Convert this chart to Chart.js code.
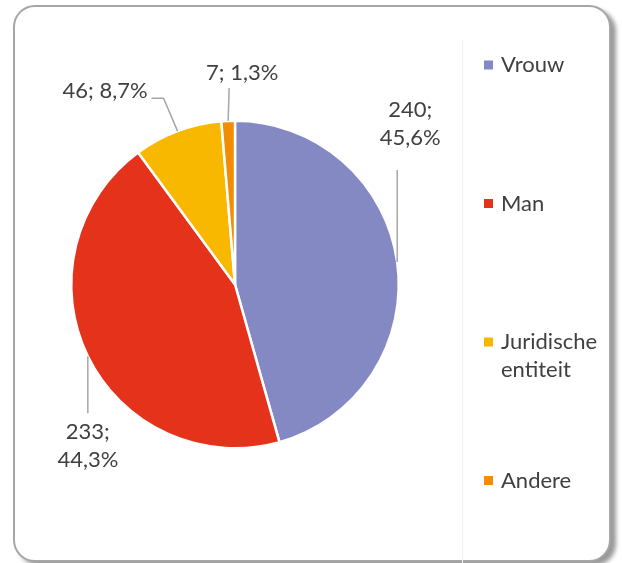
<!DOCTYPE html>
<html>
<head>
<meta charset="utf-8">
<script src="https://cdn.jsdelivr.net/npm/chart.js@4"></script>
<style>
  html, body { margin: 0; padding: 0; background: #fff; }
  #wrap { position: relative; width: 622px; height: 563px; overflow: hidden; }
  #frame {
    position: absolute; left: 13px; top: 5px; width: 594px; height: 553px;
    border: 2px solid #a6a6a6; border-radius: 22px; background: #fff;
    box-shadow: 5px 4px 4px rgba(0, 0, 0, 0.4);
  }
  #sep { position: absolute; left: 462px; top: 40px; width: 1px; height: 523px; background: #f3f3f3; }
  #box { position: absolute; left: 0; top: 0; width: 622px; height: 563px; }
</style>
</head>
<body>
<div id="wrap">
  <div id="frame"></div>
  <div id="sep"></div>
  <div id="box"><canvas id="pieChart"></canvas></div>
</div>
<script>
// Données du graphique
const categories = ['Vrouw', 'Man', 'Juridische entiteit', 'Andere'];
const legendLines = [['Vrouw'], ['Man'], ['Juridische', 'entiteit'], ['Andere']];
const values = [240, 233, 46, 7];
const percentLabels = ['45,6%', '44,3%', '8,7%', '1,3%'];
const colors = ['#8489c4', '#e5321a', '#f9b800', '#f28c00'];

const FONT = '22px Lato, "Open Sans", sans-serif';
const TEXT_COLOR = '#404040';
const LINE_COLOR = '#a6a6a6';

// Disposition des étiquettes (décalages par rapport au point d'ancrage sur l'arc)
const labelLayout = [
    { path: [[0, -92]], lines: 2, tx: 13, ty: -152, align: 'center' },
    { path: [[0, 57]], lines: 2, tx: 0, ty: 76, align: 'center' },
    { path: [[-14, -33], [-26, -33]], lines: 1, tx: -30, ty: -40, align: 'right' },
    { path: [[1, -33]], lines: 1, tx: 14, ty: -48, align: 'center' }
];

// Plugin pour les étiquettes de données avec lignes de repère
const dataLabelPlugin = {
    id: 'dataLabels',
    afterDatasetsDraw(chart) {
        const ctx = chart.ctx;
        const arcs = chart.getDatasetMeta(0).data;
        ctx.save();
        arcs.forEach((arc, i) => {
            const mid = (arc.startAngle + arc.endAngle) / 2;
            const px = arc.x + Math.cos(mid) * arc.outerRadius;
            const py = arc.y + Math.sin(mid) * arc.outerRadius;
            const lay = labelLayout[i];

            ctx.strokeStyle = LINE_COLOR;
            ctx.lineWidth = 1.5;
            ctx.beginPath();
            ctx.moveTo(px, py);
            lay.path.forEach(p => ctx.lineTo(px + p[0], py + p[1]));
            ctx.stroke();

            ctx.fillStyle = TEXT_COLOR;
            ctx.font = FONT;
            ctx.textAlign = lay.align;
            ctx.textBaseline = 'middle';
            const tx = px + lay.tx;
            const ty = py + lay.ty;
            if (lay.lines === 2) {
                ctx.fillText(values[i] + ';', tx, ty);
                ctx.fillText(percentLabels[i], tx, ty + 28);
            } else {
                ctx.fillText(values[i] + '; ' + percentLabels[i], tx, ty);
            }
        });
        ctx.restore();
    }
};

// Plugin pour la légende à droite
const legendPlugin = {
    id: 'sideLegend',
    afterDraw(chart) {
        const ctx = chart.ctx;
        const x = 484, y0 = 65, step = 138.5;
        ctx.save();
        ctx.font = FONT;
        ctx.textAlign = 'left';
        ctx.textBaseline = 'middle';
        categories.forEach((cat, i) => {
            const y = y0 + i * step;
            ctx.fillStyle = colors[i];
            ctx.fillRect(x, y - 4.5, 9, 9);
            ctx.fillStyle = TEXT_COLOR;
            legendLines[i].forEach((line, k) => ctx.fillText(line, x + 17, y + k * 28));
        });
        ctx.restore();
    }
};

document.addEventListener("DOMContentLoaded", function () {
    const ctx = document.getElementById('pieChart').getContext('2d');
    new Chart(ctx, {
        type: 'pie',
        data: {
            labels: categories,
            datasets: [{
                data: values,
                backgroundColor: colors,
                borderColor: '#ffffff',
                borderWidth: 2.5
            }]
        },
        options: {
            responsive: true,
            maintainAspectRatio: false,
            animation: false,
            layout: { padding: { left: 70, right: 222, top: 119, bottom: 113 } },
            plugins: {
                legend: { display: false },
                tooltip: { enabled: false }
            }
        },
        plugins: [dataLabelPlugin, legendPlugin]
    });
});
</script>
</body>
</html>
